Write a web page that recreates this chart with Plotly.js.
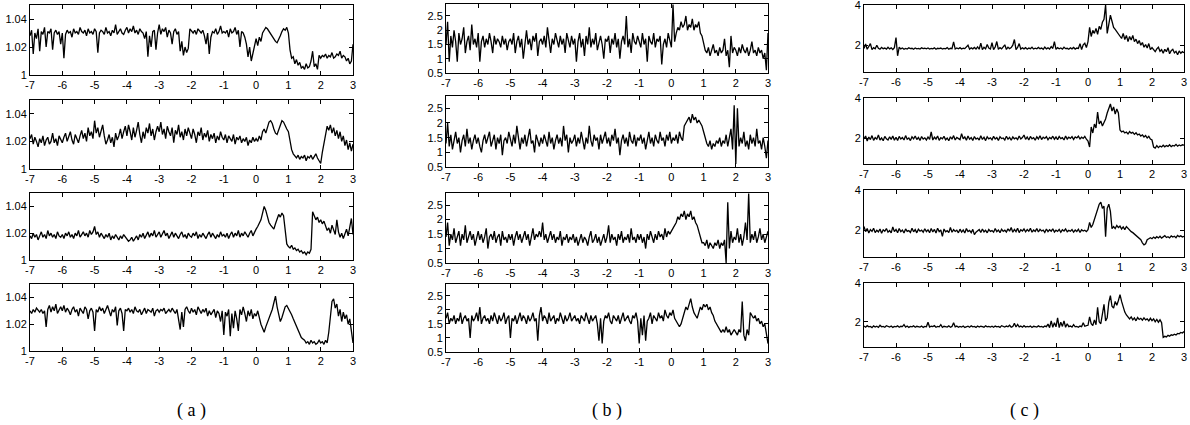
<!DOCTYPE html>
<html>
<head>
<meta charset="utf-8">
<script src="https://cdn.plot.ly/plotly-3.0.1.min.js"></script>
<style>html,body{margin:0;padding:0;background:#fff;}#chart{width:1190px;height:425px;}</style>
</head>
<body>
<div id="chart"></div>
<script>
// sample grid: first time and step (time axis -7 .. 3)
const T0 = -7, DT = 0.05;

const xTickVals = [-7,-6,-5,-4,-3,-2,-1,0,1,2,3];
const xTickText = ['-7','-6','-5','-4','-3','-2','-1','0','1','2','3'];
const aTickVals = [1,1.02,1.04], aTickText = ['1','1.02','1.04'];
const bTickVals = [0.5,1,1.5,2,2.5], bTickText = ['0.5','1','1.5','2','2.5'];
const cTickVals = [2,4], cTickText = ['2','4'];
const captions = ['( a )','( b )','( c )'];

// panel (a)
const a1 = [
1.028,1.032,1.015,1.030,1.026,1.033,1.017,1.031,1.029,1.034,1.020,1.031,1.030,1.033,1.018,1.030,1.032,1.029,1.031,1.022,
1.030,1.012,1.029,1.032,1.030,1.031,1.027,1.033,1.030,1.031,1.029,1.034,1.031,1.030,1.032,1.028,1.033,1.030,1.031,1.029,
1.033,1.031,1.016,1.030,1.032,1.031,1.029,1.034,1.030,1.031,1.028,1.032,1.030,1.036,1.029,1.031,1.033,1.030,1.029,1.032,
1.034,1.030,1.033,1.031,1.035,1.030,1.032,1.029,1.033,1.031,1.030,1.026,1.031,1.013,1.028,1.020,1.031,1.032,1.018,1.030,
1.036,1.029,1.033,1.031,1.034,1.027,1.032,1.030,1.022,1.031,1.033,1.029,1.031,1.017,1.024,1.014,1.020,1.016,1.019,1.033,
1.031,1.030,1.032,1.029,1.033,1.031,1.030,1.032,1.028,1.022,1.030,1.015,1.027,1.031,1.030,1.033,1.029,1.031,1.035,1.030,
1.031,1.030,1.032,1.027,1.033,1.030,1.031,1.034,1.029,1.032,1.020,1.031,1.030,1.027,1.022,1.013,1.020,1.010,1.016,1.022,
1.026,1.021,1.027,1.024,1.030,1.032,1.034,1.033,1.031,1.030,1.028,1.026,1.024,1.023,1.025,1.028,1.031,1.033,1.032,1.034,
1.030,1.018,1.012,1.013,1.008,1.011,1.007,1.009,1.005,1.006,1.004,1.008,1.005,1.006,1.010,1.017,1.006,1.008,1.004,1.014,
1.012,1.014,1.013,1.015,1.012,1.014,1.013,1.016,1.012,1.013,1.015,1.014,1.017,1.012,1.014,1.013,1.010,1.012,1.008,1.010,
1.022];
const a2 = [
1.022,1.025,1.018,1.023,1.020,1.016,1.022,1.019,1.024,1.017,1.021,1.023,1.018,1.020,1.026,1.019,1.022,1.017,1.024,1.021,
1.019,1.023,1.026,1.020,1.024,1.027,1.021,1.018,1.025,1.022,1.019,1.024,1.028,1.022,1.026,1.020,1.030,1.024,1.027,1.022,
1.035,1.026,1.030,1.023,1.027,1.032,1.024,1.018,1.021,1.025,1.019,1.023,1.016,1.026,1.021,1.024,1.029,1.022,1.027,1.031,
1.024,1.032,1.027,1.021,1.030,1.023,1.028,1.034,1.025,1.019,1.027,1.022,1.030,1.026,1.033,1.024,1.029,1.021,1.027,1.031,
1.027,1.034,1.025,1.029,1.022,1.031,1.027,1.024,1.030,1.019,1.028,1.025,1.032,1.023,1.027,1.021,1.029,1.024,1.030,1.026,
1.022,1.029,1.025,1.019,1.027,1.024,1.030,1.021,1.026,1.023,1.028,1.020,1.025,1.022,1.026,1.019,1.024,1.021,1.027,1.023,
1.021,1.025,1.019,1.024,1.022,1.020,1.025,1.018,1.023,1.021,1.024,1.019,1.022,1.020,1.023,1.017,1.021,1.019,1.023,1.020,
1.022,1.020,1.024,1.021,1.027,1.029,1.026,1.031,1.034,1.035,1.033,1.029,1.026,1.025,1.028,1.032,1.035,1.034,1.031,1.029,
1.027,1.020,1.014,1.011,1.009,1.008,1.010,1.007,1.009,1.008,1.010,1.006,1.009,1.008,1.010,1.007,1.009,1.011,1.008,1.006,
1.004,1.012,1.019,1.026,1.031,1.028,1.032,1.026,1.030,1.024,1.028,1.022,1.027,1.020,1.024,1.017,1.021,1.014,1.019,1.013,
1.018];
const a3 = [
1.018,1.016,1.020,1.017,1.019,1.015,1.018,1.021,1.017,1.019,1.016,1.022,1.018,1.020,1.017,1.019,1.016,1.021,1.018,1.017,
1.019,1.016,1.020,1.018,1.021,1.017,1.019,1.016,1.020,1.018,1.022,1.017,1.019,1.021,1.018,1.020,1.017,1.022,1.019,1.021,
1.025,1.019,1.021,1.017,1.020,1.018,1.016,1.019,1.017,1.020,1.015,1.018,1.016,1.019,1.017,1.015,1.018,1.016,1.019,1.017,
1.016,1.014,1.015,1.017,1.014,1.016,1.018,1.015,1.019,1.017,1.020,1.016,1.019,1.021,1.017,1.020,1.018,1.022,1.017,1.019,
1.021,1.017,1.019,1.022,1.018,1.020,1.016,1.019,1.021,1.017,1.020,1.018,1.016,1.019,1.021,1.017,1.019,1.016,1.020,1.018,
1.017,1.020,1.018,1.021,1.016,1.019,1.017,1.020,1.018,1.016,1.019,1.021,1.017,1.020,1.018,1.016,1.019,1.017,1.021,1.018,
1.019,1.017,1.020,1.016,1.019,1.021,1.017,1.020,1.018,1.022,1.017,1.020,1.018,1.021,1.019,1.017,1.020,1.022,1.018,1.021,
1.023,1.025,1.028,1.030,1.035,1.040,1.037,1.032,1.028,1.026,1.024,1.023,1.027,1.030,1.034,1.032,1.035,1.033,1.022,1.012,
1.010,1.009,1.011,1.008,1.009,1.007,1.008,1.006,1.007,1.005,1.006,1.004,1.006,1.005,1.008,1.036,1.033,1.030,1.032,1.028,
1.030,1.027,1.029,1.025,1.022,1.024,1.020,1.026,1.022,1.019,1.030,1.021,1.017,1.020,1.016,1.019,1.023,1.018,1.025,1.031,
1.019];
const a4 = [
1.030,1.028,1.031,1.029,1.032,1.030,1.029,1.031,1.028,1.030,1.018,1.031,1.034,1.029,1.033,1.030,1.035,1.028,1.031,1.033,
1.030,1.034,1.029,1.032,1.030,1.027,1.031,1.033,1.029,1.031,1.026,1.032,1.030,1.028,1.033,1.031,1.024,1.030,1.032,1.029,
1.015,1.031,1.029,1.033,1.030,1.032,1.028,1.031,1.034,1.030,1.026,1.031,1.029,1.033,1.019,1.030,1.032,1.028,1.015,1.031,
1.030,1.032,1.029,1.031,1.028,1.033,1.030,1.029,1.031,1.027,1.030,1.032,1.028,1.031,1.030,1.029,1.032,1.026,1.030,1.031,
1.029,1.031,1.030,1.032,1.028,1.030,1.031,1.029,1.032,1.030,1.028,1.031,1.024,1.016,1.029,1.018,1.031,1.033,1.030,1.028,
1.032,1.029,1.031,1.027,1.033,1.030,1.028,1.031,1.029,1.032,1.026,1.030,1.027,1.029,1.031,1.025,1.030,1.028,1.022,1.030,
1.012,1.029,1.026,1.031,1.011,1.028,1.017,1.030,1.024,1.015,1.031,1.027,1.033,1.028,1.022,1.030,1.026,1.031,1.024,1.028,
1.026,1.030,1.024,1.020,1.017,1.014,1.018,1.021,1.024,1.027,1.031,1.036,1.041,1.033,1.027,1.022,1.025,1.029,1.033,1.034,
1.032,1.029,1.027,1.024,1.021,1.018,1.015,1.012,1.010,1.009,1.008,1.006,1.007,1.005,1.008,1.006,1.007,1.005,1.006,1.008,
1.006,1.007,1.005,1.008,1.006,1.014,1.028,1.037,1.039,1.032,1.035,1.026,1.031,1.022,1.029,1.024,1.027,1.020,1.024,1.016,
1.006];

// panel (b)
const b1 = [
1.5,2.3,0.9,1.8,1.4,2.0,1.6,0.9,1.9,1.5,1.7,2.1,1.2,1.6,1.8,1.3,2.2,1.5,1.7,1.4,
1.9,0.9,1.6,1.8,1.4,1.7,1.5,1.9,1.6,1.2,1.8,1.5,1.7,1.6,1.4,1.8,1.5,1.7,1.3,1.6,
1.7,1.5,1.9,1.2,1.6,1.8,1.4,1.7,1.0,1.6,2.0,1.5,1.7,1.3,1.8,1.6,1.9,1.1,1.6,1.7,
1.5,1.8,1.4,2.1,1.6,1.2,1.7,1.5,1.9,1.6,1.4,1.8,1.5,1.7,1.2,1.9,1.6,1.4,1.8,1.5,
1.7,0.9,1.6,1.9,1.4,1.7,1.1,1.8,1.5,2.1,1.4,1.7,1.5,1.9,1.3,1.6,1.8,1.5,1.0,1.7,
1.6,1.8,1.2,1.7,1.5,1.9,1.4,1.7,1.0,1.6,1.8,1.5,2.5,1.4,1.7,1.2,1.9,1.6,1.5,1.8,
1.6,1.4,1.9,1.5,1.7,0.9,1.8,1.6,1.5,1.9,1.4,1.7,1.6,1.8,0.8,1.5,1.7,1.4,1.9,1.6,
1.4,2.9,1.6,1.9,2.1,2.0,2.3,2.1,2.2,2.5,2.0,2.2,2.1,2.4,2.0,2.2,2.1,2.3,1.9,1.8,
1.5,1.3,1.2,1.4,1.1,1.3,1.5,1.2,1.3,1.1,1.4,1.2,1.3,1.7,1.1,1.3,0.7,1.8,1.2,1.4,
1.3,1.1,1.4,1.2,1.5,1.3,1.2,1.4,1.1,1.3,1.6,1.2,1.3,1.1,1.4,1.2,1.3,1.0,1.2,0.6,
1.9];
const b2 = [
1.3,2.0,1.2,1.6,1.1,1.4,1.7,1.3,1.5,1.0,1.4,1.6,1.2,1.8,1.3,1.5,1.1,1.4,1.6,1.3,
1.5,1.2,1.0,1.4,1.6,1.3,1.5,1.7,1.2,1.4,1.6,1.1,1.5,1.3,1.6,0.9,1.4,1.5,1.3,1.7,
1.4,1.2,1.6,1.3,1.9,1.4,1.1,1.5,1.3,1.6,1.2,1.5,1.8,1.3,1.4,1.0,1.6,1.4,1.2,1.5,
1.3,1.6,1.4,1.2,1.7,1.3,1.5,1.1,1.4,1.6,1.3,1.5,1.2,1.9,1.4,1.6,1.0,1.5,1.3,1.4,
1.6,1.2,1.5,1.3,1.7,1.4,1.1,1.5,1.3,1.9,1.4,1.2,1.6,1.4,1.5,1.1,1.6,1.3,1.5,1.7,
1.3,1.5,1.2,1.6,1.4,1.8,1.3,1.5,0.9,1.4,1.6,1.3,1.5,1.2,1.7,1.4,1.3,1.6,1.2,1.5,
1.4,1.6,1.3,1.5,1.1,1.4,1.7,1.3,1.5,1.2,1.6,1.4,1.3,1.7,1.4,1.5,1.2,1.6,1.4,1.7,
1.3,1.5,1.4,1.6,1.3,1.7,1.5,1.4,1.9,2.0,2.1,2.2,2.0,2.3,2.1,2.2,2.0,2.1,2.0,1.9,
1.7,1.5,1.3,1.2,1.4,1.1,1.3,1.2,1.4,1.3,1.5,1.2,1.4,1.3,1.6,1.2,1.5,1.8,1.1,2.6,
0.6,2.5,1.2,1.5,1.3,1.7,1.2,1.4,1.1,1.6,1.3,1.5,1.2,1.8,1.3,1.4,1.1,1.5,1.2,0.8,
1.4];
const b3 = [
1.4,1.9,1.1,1.5,1.3,1.7,1.2,1.4,1.6,1.1,1.5,1.3,1.8,1.2,1.4,1.6,1.3,1.5,1.1,1.4,
1.6,1.3,1.5,1.2,1.4,1.7,1.0,1.4,1.5,1.3,1.6,1.2,1.4,1.5,1.1,1.6,1.3,1.4,1.2,1.5,
1.3,1.5,1.1,1.4,1.6,1.3,1.5,1.2,1.4,1.6,1.3,1.5,1.1,1.4,1.7,1.3,1.5,1.4,1.6,1.4,
1.9,1.3,1.5,1.2,1.4,1.6,1.3,1.5,1.2,1.4,1.3,1.6,1.1,1.4,1.3,1.5,1.2,1.4,1.3,1.5,
1.2,1.4,1.1,1.3,1.5,1.2,1.4,1.3,1.1,1.4,1.6,1.2,1.3,1.5,1.2,1.4,1.1,1.3,1.5,1.2,
1.4,1.8,1.2,1.5,1.3,1.4,1.1,1.5,1.3,1.6,1.2,1.4,1.3,1.5,1.2,1.7,1.3,1.4,1.2,1.5,
1.3,1.5,1.2,1.4,1.0,1.5,1.3,1.6,1.4,1.2,1.5,1.3,1.6,1.4,1.5,1.3,1.7,1.4,1.6,1.5,
1.6,1.7,1.8,1.9,2.1,2.0,2.2,2.1,2.3,2.0,2.2,2.1,2.3,2.0,2.1,1.9,1.8,1.6,1.4,1.2,
1.2,1.1,1.3,1.0,1.2,1.1,1.0,1.2,1.1,1.3,1.0,1.2,1.1,1.3,0.5,2.6,1.0,1.6,1.2,1.4,
1.3,1.7,1.2,1.5,1.1,1.4,1.9,1.3,2.9,1.2,1.5,1.3,1.6,1.2,1.4,1.7,1.3,1.5,1.2,1.4,
1.6];
const b4 = [
1.7,1.9,1.5,1.7,1.6,1.8,1.5,1.7,1.6,1.9,1.5,1.7,1.8,1.6,1.7,1.0,1.8,1.6,1.7,1.9,
1.6,2.1,1.5,1.7,1.8,1.6,1.7,1.5,1.8,1.6,1.9,1.7,1.5,1.8,1.6,1.7,1.9,1.5,1.7,1.8,
1.0,1.7,1.6,1.8,1.5,1.7,1.9,1.6,1.8,1.7,1.5,1.8,1.6,1.7,1.9,1.6,1.7,0.9,1.8,2.1,
1.6,1.8,1.7,1.5,1.9,1.6,1.7,1.8,1.5,1.7,1.6,1.9,1.7,1.5,1.8,1.6,1.7,1.9,1.6,1.7,
1.8,1.6,1.7,1.5,1.8,1.7,1.6,1.9,1.7,1.5,1.8,1.6,1.7,1.8,1.5,0.9,1.7,0.8,1.6,1.8,
1.7,1.9,1.6,1.5,1.8,1.7,1.6,1.8,1.5,1.7,1.9,1.6,1.7,1.8,1.6,1.5,1.8,1.7,1.9,1.6,
0.8,1.7,1.1,1.8,0.9,1.6,1.7,1.9,1.5,1.8,1.7,1.6,1.9,1.7,1.8,1.6,2.0,1.8,1.7,1.9,
1.8,2.0,1.7,1.6,1.5,1.4,1.5,1.7,1.9,2.1,2.0,2.2,2.4,2.1,1.9,1.8,1.7,1.9,2.1,2.0,
2.2,2.1,2.2,2.0,2.1,1.9,1.8,1.6,1.5,1.4,1.3,1.2,1.3,1.2,1.4,1.2,1.3,1.1,1.2,1.3,
1.2,1.1,1.3,1.2,2.3,1.1,0.9,1.3,1.1,1.9,1.8,1.7,1.8,1.6,1.7,1.5,1.6,1.4,1.5,1.2,
0.8];

// panel (c)
const c1 = [
1.86,2.08,1.82,1.93,2.10,1.80,1.90,1.84,2.02,1.87,1.82,1.91,1.85,1.88,1.83,1.92,1.84,1.89,1.81,1.90,
2.40,1.50,1.92,1.84,1.88,1.82,1.86,1.83,1.89,1.85,1.87,1.82,1.88,1.84,1.86,1.83,1.89,1.85,1.87,1.84,
1.88,1.83,1.86,1.84,1.89,1.82,1.87,1.85,1.88,1.83,1.86,1.84,1.90,1.82,1.87,1.85,2.18,1.83,1.88,1.84,
1.90,1.83,1.87,1.85,1.92,2.02,1.82,1.89,1.84,1.91,1.83,1.94,1.82,2.12,1.80,1.92,1.84,2.05,1.88,1.83,
2.14,1.80,1.93,2.20,1.82,1.90,1.84,1.95,2.04,1.81,1.92,1.85,1.90,2.02,2.30,1.80,1.91,2.10,1.83,1.89,
1.84,1.90,1.82,1.88,1.85,1.92,1.83,1.87,1.84,1.91,1.85,1.88,1.82,1.93,1.84,1.89,1.83,1.95,1.86,2.20,
1.82,1.90,1.84,1.88,1.83,1.92,1.85,1.87,1.82,1.89,1.84,1.91,1.83,1.88,1.86,2.10,1.80,2.04,2.12,1.90,
2.20,2.90,2.45,2.75,2.60,2.85,2.55,2.95,2.80,3.15,3.30,4.00,2.60,3.05,3.50,3.20,2.90,2.80,2.70,2.55,
2.50,2.35,2.60,2.30,2.50,2.20,2.45,2.28,2.50,2.20,2.32,2.10,2.25,2.02,2.15,1.92,2.05,1.88,2.10,1.80,
1.90,1.78,1.70,1.84,1.92,1.72,1.80,1.62,1.82,1.70,1.90,1.60,1.75,1.82,1.64,1.72,1.55,1.74,1.62,1.70,
1.65];
const c2 = [
1.95,2.10,1.85,2.05,1.92,2.12,1.88,2.02,1.94,2.15,1.90,2.00,1.86,2.08,1.96,1.90,2.06,1.93,2.10,1.89,
2.04,1.88,2.08,1.95,2.02,1.90,2.12,1.94,2.00,1.87,2.06,1.96,2.10,1.92,2.03,1.88,2.07,1.95,2.01,1.90,
2.05,1.93,2.30,1.90,2.04,1.95,2.10,1.88,2.02,1.96,2.08,1.91,2.00,1.86,2.06,1.94,2.12,1.90,2.03,1.97,
1.92,2.22,1.96,2.05,1.89,2.10,1.94,2.02,1.88,2.07,1.95,2.00,1.90,2.11,1.93,2.04,1.87,2.06,1.96,2.01,
1.91,2.08,1.95,2.02,1.88,2.06,1.97,2.00,1.90,2.09,1.94,2.03,1.89,2.05,1.96,2.01,1.92,2.10,1.95,2.02,
2.15,1.93,2.05,1.90,2.08,1.96,2.02,1.89,2.06,1.95,2.11,1.92,2.04,1.98,2.07,1.91,2.03,1.96,2.09,1.94,
2.05,1.92,2.08,1.97,2.02,1.90,2.10,1.95,2.04,1.98,2.07,1.93,2.05,2.00,2.09,1.95,2.04,1.98,2.08,1.94,
1.85,1.55,2.55,2.25,2.70,2.50,3.30,2.70,2.85,2.60,2.75,2.95,3.25,3.50,3.70,3.35,3.55,3.20,3.45,3.25,
2.40,2.30,2.35,2.25,2.30,2.20,2.32,2.24,2.28,2.18,2.26,2.15,2.20,2.10,2.16,2.05,2.12,2.00,2.08,1.95,
1.90,1.55,1.50,1.62,1.52,1.60,1.55,1.64,1.56,1.62,1.58,1.66,1.57,1.63,1.60,1.68,1.59,1.65,1.61,1.66,
1.64];
const c3 = [
2.20,1.95,2.10,1.88,2.05,1.96,2.12,1.90,2.02,1.94,2.08,1.87,2.04,1.97,2.10,1.92,2.00,1.89,2.18,1.95,
2.06,1.90,2.10,1.95,2.03,1.88,2.08,1.96,2.00,1.91,2.12,1.94,2.05,1.89,2.07,1.97,2.02,1.92,2.09,1.95,
2.04,1.90,2.10,1.93,2.06,1.88,2.12,1.95,2.03,1.72,2.08,1.94,2.00,1.90,2.15,1.92,2.05,1.96,2.02,1.89,
2.07,1.93,2.03,1.88,2.10,1.95,2.01,1.90,2.06,1.80,1.92,1.98,2.05,1.91,2.08,1.94,2.02,1.89,2.06,1.96,
2.00,1.92,2.10,1.95,2.03,1.90,2.07,1.96,2.02,1.93,2.09,1.97,2.15,1.92,2.06,1.95,2.12,1.90,2.04,1.98,
2.08,1.94,2.05,1.97,2.11,1.92,2.03,1.96,2.10,1.93,2.06,1.98,2.02,1.91,2.08,1.95,2.04,1.97,2.09,1.93,
2.02,1.96,2.06,1.92,2.04,1.98,2.08,1.94,2.01,1.97,2.05,1.93,2.03,1.96,2.07,1.91,2.04,1.98,2.02,1.95,
2.05,2.40,2.15,2.30,2.55,2.80,3.00,3.30,3.40,3.10,3.20,1.70,3.10,3.30,2.95,2.10,2.20,2.10,2.25,2.15,
2.22,2.08,2.18,2.05,2.20,2.10,2.00,1.95,1.90,1.82,1.78,1.70,1.62,1.55,1.40,1.30,1.35,1.55,1.60,1.65,
1.60,1.68,1.62,1.70,1.64,1.72,1.63,1.68,1.75,1.66,1.70,1.64,1.74,1.68,1.72,1.65,1.76,1.70,1.74,1.68,
1.72];
const c4 = [
1.78,1.72,1.80,1.74,1.76,1.70,1.79,1.73,1.77,1.71,1.82,1.74,1.76,1.72,1.80,1.75,1.73,1.78,1.71,1.76,
1.74,1.79,1.72,1.77,1.75,1.85,1.73,1.78,1.71,1.76,1.74,1.79,1.72,1.77,1.75,1.73,1.78,1.71,1.76,1.74,
1.98,1.73,1.77,1.75,1.80,1.72,1.76,1.74,1.85,1.71,1.77,1.75,1.73,1.79,1.72,1.76,1.95,1.74,1.78,1.72,
1.76,1.73,1.78,1.71,1.75,1.77,1.72,1.79,1.74,1.76,1.71,1.78,1.73,1.77,1.75,1.72,1.79,1.74,1.76,1.73,
1.77,1.72,1.78,1.74,1.76,1.71,1.80,1.75,1.73,1.78,1.74,1.82,1.72,1.76,1.92,1.73,1.86,1.74,1.78,1.72,
1.80,1.73,1.76,1.74,1.78,1.71,1.77,1.75,1.73,1.79,1.74,1.76,1.72,1.78,1.75,1.88,1.70,2.05,1.72,1.95,
1.74,2.20,1.70,1.98,1.76,2.05,1.72,1.90,1.75,1.78,1.73,1.85,1.74,1.76,1.72,1.78,1.75,1.95,1.77,1.80,
1.82,2.25,1.90,1.80,2.10,1.85,2.75,2.00,1.90,2.40,2.90,2.05,2.20,3.00,3.35,2.80,2.70,3.05,2.85,3.10,
3.40,3.05,2.70,2.50,2.35,2.25,2.15,2.25,2.10,2.20,2.05,2.22,2.12,2.18,2.08,2.20,2.10,2.15,2.05,2.18,
2.06,2.15,2.00,2.12,1.98,2.10,1.95,1.20,1.25,1.22,1.30,1.26,1.33,1.30,1.36,1.32,1.40,1.38,1.45,1.42,
1.50];

const W = 1190, H = 425;
const panels = [
  {cols:[30,353], rows:[[5,75],[100,169],[193,260],[284,351]], range:[1,1.05], tv:aTickVals, tt:aTickText, data:[a1,a2,a3,a4]},
  {cols:[446,768], rows:[[4,73],[96,167],[193,263],[284,352]], range:[0.5,2.92], tv:bTickVals, tt:bTickText, data:[b1,b2,b3,b4]},
  {cols:[864,1184], rows:[[5,72],[98,164],[190,257],[283,347]], range:[0.7,4], tv:cTickVals, tt:cTickText, data:[c1,c2,c3,c4]}
];

const traces = [];
const layout = {
  width: W, height: H,
  margin: {l:0, r:0, t:0, b:0, pad:0},
  paper_bgcolor: '#fff', plot_bgcolor: '#fff',
  showlegend: false,
  font: {family: 'Liberation Sans, Arial, sans-serif', size: 11, color: '#000'},
  annotations: []
};
const tickfont = {family: 'Liberation Sans, Arial, sans-serif', size: 11, color: '#000'};
let n = 0;
panels.forEach((p, pi) => {
  p.data.forEach((ys, ri) => {
    n++;
    const sfx = n === 1 ? '' : String(n);
    const [top, bot] = p.rows[ri];
    traces.push({
      type: 'scatter', mode: 'lines', y: ys, x0: T0, dx: DT,
      xaxis: 'x' + sfx, yaxis: 'y' + sfx,
      line: {color: '#000', width: 1.3}, hoverinfo: 'skip'
    });
    layout['xaxis' + sfx] = {
      domain: [p.cols[0] / W, p.cols[1] / W], anchor: 'y' + sfx,
      range: [-7, 3], tickmode: 'array', tickvals: xTickVals, ticktext: xTickText,
      ticks: 'inside', ticklen: 4, tickwidth: 1, tickcolor: '#000', ticklabeloverflow: 'allow',
      mirror: 'ticks', showline: true, linecolor: '#000', linewidth: 1,
      showgrid: false, zeroline: false, tickfont: tickfont, fixedrange: true
    };
    layout['yaxis' + sfx] = {
      domain: [1 - bot / H, 1 - top / H], anchor: 'x' + sfx,
      range: p.range, tickmode: 'array', tickvals: p.tv, ticktext: p.tt,
      ticks: 'inside', ticklen: 4, tickwidth: 1, tickcolor: '#000', ticklabeloverflow: 'allow',
      mirror: 'ticks', showline: true, linecolor: '#000', linewidth: 1,
      showgrid: false, zeroline: false, tickfont: tickfont, fixedrange: true
    };
  });
  layout.annotations.push({
    text: captions[pi], xref: 'paper', yref: 'paper',
    x: ((p.cols[0] + p.cols[1]) / 2) / W, y: 1 - 410 / H,
    xanchor: 'center', yanchor: 'middle', showarrow: false,
    font: {family: 'Liberation Serif, Times New Roman, serif', size: 18, color: '#000'}
  });
});

Plotly.newPlot('chart', traces, layout, {staticPlot: true, displayModeBar: false});
</script>
</body>
</html>
